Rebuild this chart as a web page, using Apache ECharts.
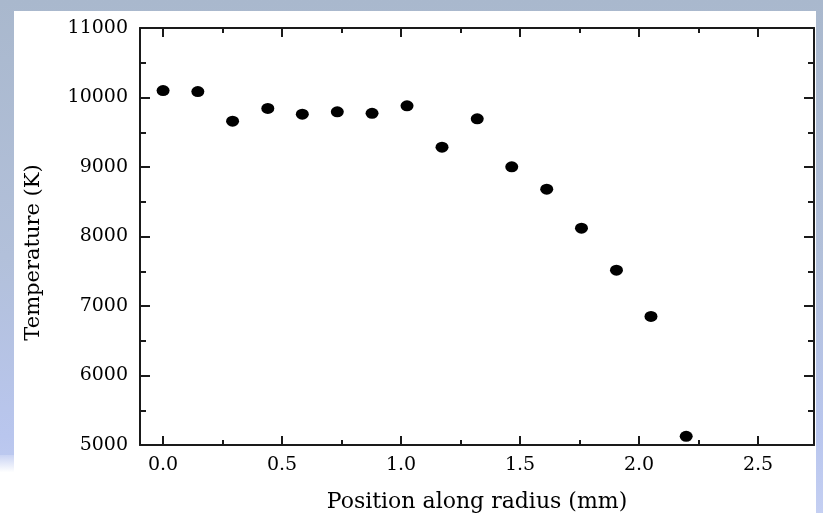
<!DOCTYPE html>
<html>
<head>
<meta charset="utf-8">
<script src="https://cdn.jsdelivr.net/npm/echarts@6/dist/echarts.min.js"></script>
<style>
  html, body { margin: 0; padding: 0; }
  body {
    width: 823px; height: 513px; position: relative; overflow: hidden;
    background: linear-gradient(180deg, #a9b8cd 0%, #b2c0da 50%, #b9c6ee 85%, #c4cff2 100%);
  }
  #panel { position: absolute; left: 14px; top: 11px; width: 802px; height: 502px; background: #fff; }
  #corner { position: absolute; left: 0; top: 455px; width: 14px; height: 58px;
    background: linear-gradient(180deg, #c9d3f3 0%, #fff 30%, #fff 100%); }
  #main { position: absolute; left: 0; top: 0; width: 823px; height: 513px; }
</style>
</head>
<body>
<div id="panel"></div>
<div id="corner"></div>
<div id="main"></div>
<script>
// radius positions (mm) and measured temperatures (K)
const positions = [0, 0.146, 0.292, 0.44, 0.585, 0.732, 0.878, 1.025, 1.172, 1.32, 1.465, 1.612, 1.758, 1.905, 2.05, 2.198];
const temperatures = [10100, 10086, 9660, 9842, 9760, 9794, 9772, 9880, 9285, 9693, 9003, 8681, 8120, 7515, 6850, 5125];
const xMajorTicks = [0, 0.5, 1.0, 1.5, 2.0, 2.5];
const xMinorTicks = [0.25, 0.75, 1.25, 1.75, 2.25];

const xMin = -0.097, xMax = 2.735;
const yMin = 5000, yMax = 11000;
const ink = '#1a1a1a';
const font = 'DejaVu Serif';

const chart = echarts.init(document.getElementById('main'), null, { renderer: 'canvas' });

const baseX = (pos, extra) => Object.assign({
  type: 'value', min: xMin, max: xMax, position: pos,
  axisLine: { show: false }, splitLine: { show: false },
  axisLabel: { show: false }
}, extra);

const option = {
  animation: false,
  grid: { left: 140, top: 28, right: 9, bottom: 68, outerBoundsMode: 'none', containLabel: false },
  xAxis: [
    baseX('bottom', {
      name: 'Position along radius (mm)', nameLocation: 'middle', nameGap: 46,
      nameTextStyle: { fontFamily: font, fontSize: 22, color: '#000' },
      axisLine: { show: true, onZero: false, lineStyle: { color: ink, width: 2 } },
      axisTick: { inside: true, length: 9, lineStyle: { color: ink, width: 2 }, customValues: xMajorTicks },
      axisLabel: { show: true, margin: 11, fontFamily: font, fontSize: 19, color: '#000',
        customValues: xMajorTicks, formatter: v => v.toFixed(1) }
    }),
    baseX('bottom', {
      axisTick: { inside: true, length: 5, lineStyle: { color: ink, width: 2 }, customValues: xMinorTicks }
    }),
    baseX('top', {
      axisLine: { show: true, onZero: false, lineStyle: { color: ink, width: 2 } },
      axisTick: { inside: true, length: 9, lineStyle: { color: ink, width: 2 }, customValues: xMajorTicks }
    }),
    baseX('top', {
      axisTick: { inside: true, length: 5, lineStyle: { color: ink, width: 2 }, customValues: xMinorTicks }
    })
  ],
  yAxis: [
    {
      type: 'value', min: yMin, max: yMax, interval: 1000, position: 'left',
      name: 'Temperature (K)', nameLocation: 'middle', nameGap: 96, nameRotate: 90,
      nameTextStyle: { fontFamily: font, fontSize: 21, color: '#000', padding: [0, 32, 0, 0] },
      axisLine: { show: true, onZero: false, lineStyle: { color: ink, width: 2 } },
      axisTick: { inside: true, length: 10, lineStyle: { color: ink, width: 2 } },
      minorTick: { show: true, splitNumber: 2, length: 6, lineStyle: { color: ink, width: 2 } },
      axisLabel: { margin: 12, fontFamily: font, fontSize: 19, color: '#000', formatter: v => String(v) },
      splitLine: { show: false }
    },
    {
      type: 'value', min: yMin, max: yMax, interval: 1000, position: 'right',
      axisLine: { show: true, onZero: false, lineStyle: { color: ink, width: 2 } },
      axisTick: { inside: true, length: 10, lineStyle: { color: ink, width: 2 } },
      minorTick: { show: true, splitNumber: 2, length: 6, lineStyle: { color: ink, width: 2 } },
      axisLabel: { show: false },
      splitLine: { show: false }
    }
  ],
  series: [{
    type: 'scatter',
    xAxisIndex: 0, yAxisIndex: 0,
    symbol: 'circle', symbolSize: [13, 11],
    itemStyle: { color: '#000', opacity: 1 },
    data: positions.map((p, i) => [p, temperatures[i]])
  }]
};

chart.setOption(option);
</script>
</body>
</html>
